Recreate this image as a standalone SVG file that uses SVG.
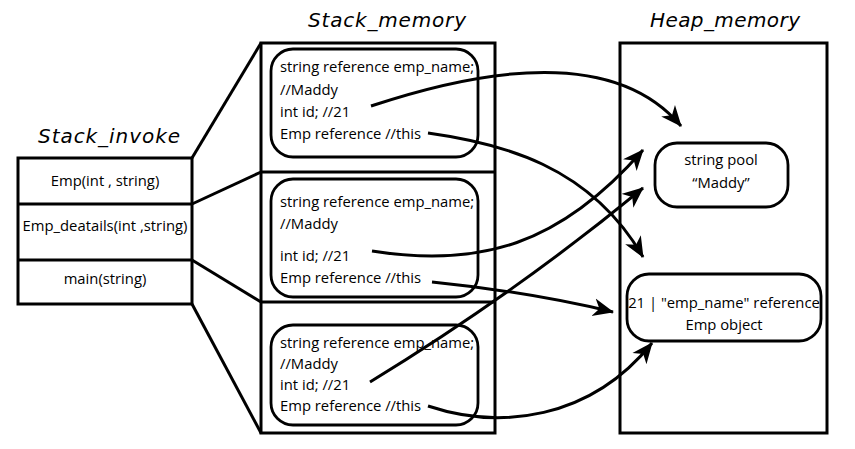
<svg xmlns="http://www.w3.org/2000/svg" width="855" height="449" viewBox="0 0 855 449">
<style>
.box{fill:#fff;stroke:#000;stroke-width:3}
.rbox{fill:#fff;stroke:#000;stroke-width:2.8}
.t{font-family:"Open Sans","Noto Sans",sans-serif;font-size:14.8px;fill:#000}
.title{font-family:"DejaVu Sans",sans-serif;font-style:italic;font-size:20px;fill:#000}
.ln{fill:none;stroke:#000;stroke-width:3}
.arr{fill:none;stroke:#000;stroke-width:3;marker-end:url(#ah)}
</style>
<defs>
<marker id="ah" markerUnits="userSpaceOnUse" markerWidth="24" markerHeight="20" viewBox="0 0 24 20" refX="20" refY="10" orient="auto">
<path d="M0,1 L21,10 L0,19 L6,10 z" fill="#000"/>
</marker>
</defs>
<rect width="855" height="449" fill="#fff"/>

<text class="title" x="387" y="27" text-anchor="middle" textLength="158">Stack_memory</text>
<text class="title" x="725" y="27" text-anchor="middle" textLength="150">Heap_memory</text>
<text class="title" x="109" y="143" text-anchor="middle" textLength="142">Stack_invoke</text>

<g id="stack_invoke">
<rect class="box" x="18" y="158" width="174" height="146"/>
<line class="ln" x1="18" y1="204" x2="192" y2="204"/>
<line class="ln" x1="18" y1="260" x2="192" y2="260"/>
<text class="t" x="105" y="186" text-anchor="middle">Emp(int , string)</text>
<text class="t" x="105" y="231" text-anchor="middle">Emp_deatails(int ,string)</text>
<text class="t" x="105" y="284" text-anchor="middle">main(string)</text>
</g>

<g id="stack_memory">
<rect class="box" x="261" y="43" width="234" height="390"/>
<line class="ln" x1="261" y1="172" x2="495" y2="172"/>
<line class="ln" x1="261" y1="302" x2="495" y2="302"/>
</g>

<g id="frame1">
<rect class="rbox" x="271" y="49" width="207" height="108" rx="22"/>
<text class="t" x="280" y="72">string reference emp_name;</text>
<text class="t" x="280" y="95">//Maddy</text>
<text class="t" x="280" y="117">int id; //21</text>
<text class="t" x="280" y="139">Emp reference //this</text>
</g>
<g id="frame2">
<rect class="rbox" x="271" y="179" width="207" height="118" rx="22"/>
<text class="t" x="280" y="207">string reference emp_name;</text>
<text class="t" x="280" y="229">//Maddy</text>
<text class="t" x="280" y="261">int id; //21</text>
<text class="t" x="280" y="283">Emp reference //this</text>
</g>
<g id="frame3">
<rect class="rbox" x="271" y="325" width="207" height="100" rx="22"/>
<text class="t" x="280" y="348">string reference emp_name;</text>
<text class="t" x="280" y="369">//Maddy</text>
<text class="t" x="280" y="390">int id; //21</text>
<text class="t" x="280" y="411">Emp reference //this</text>
</g>

<g id="heap_memory">
<rect class="box" x="620" y="43" width="207" height="390"/>
</g>
<g id="string_pool">
<rect class="rbox" x="655" y="143" width="133" height="64" rx="22"/>
<text class="t" x="721" y="165" text-anchor="middle">string pool</text>
<text class="t" x="721" y="188" text-anchor="middle">“Maddy”</text>
</g>
<g id="emp_object">
<rect class="rbox" x="627" y="274" width="194" height="67" rx="22"/>
<text class="t" x="724" y="308" text-anchor="middle">21 | "emp_name" reference</text>
<text class="t" x="724" y="330" text-anchor="middle">Emp object</text>
</g>

<g id="connectors">
<line class="ln" x1="192" y1="158" x2="261" y2="43"/>
<line class="ln" x1="192" y1="204" x2="261" y2="172"/>
<line class="ln" x1="192" y1="260" x2="261" y2="302"/>
<line class="ln" x1="192" y1="304" x2="261" y2="433"/>
<path class="arr" d="M371,106 Q600,30 681,126"/>
<path class="arr" d="M428,133 C500,143 590,165 643,257"/>
<path class="arr" d="M372,251 C480,268 560,245 643,150"/>
<path class="arr" d="M432,282 Q530,292 613,312"/>
<path class="arr" d="M370,382 Q520,290 643,188"/>
<path class="arr" d="M428,406 C500,430 590,420 652,343"/>
</g>
</svg>
